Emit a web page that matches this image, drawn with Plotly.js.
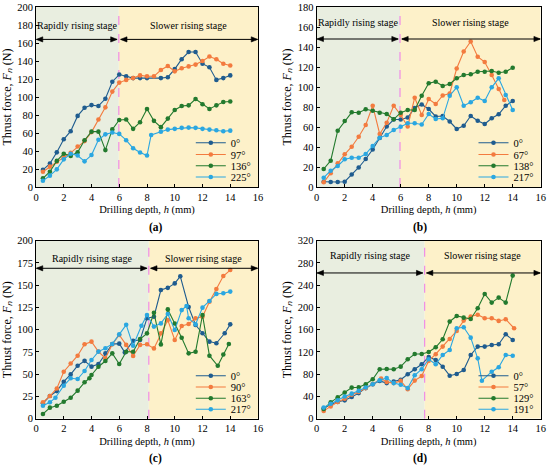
<!DOCTYPE html>
<html>
<head>
<meta charset="utf-8">
<script src="https://cdn.plot.ly/plotly-3.0.1.min.js"></script>
<style>html,body{margin:0;padding:0;background:#fff}#chart{width:550px;height:468px}</style>
</head>
<body>
<div id="chart"></div>
<script>
// ---------- Data ----------
var grid = [0.5,1,1.5,2,2.5,3,3.5,4,4.5,5,5.5,6,6.5,7,7.5,8,8.5,9,9.5,10,10.5,11,11.5,12,12.5,13,13.5,14];

// Panel (a)
var aNames = ["0°","97°","136°","225°"];
var a0x = [0.5,1,1.5,2,2.5,3,3.5,4,4.5,5,5.5,6,6.5,7,7.5,8,9,9.5,10,10.5,11,11.5,12,12.5,13,13.5,14];
var a0y = [19,26,38.5,53,62,79,88,91,90,98,117,125,123,121,121,121,121,122,131,142,150,150,137,133,119,121,124];
var a97x = grid;
var a97y = [17,22.6,28,33,38,45,51,61,75,88.5,106,116,119,121,124,123,123,130,134.5,128.5,132,134,136,140,145,142,137,135];
var a136x = grid;
var a136y = [9.6,17,29,37,34.5,38.5,52,61.5,61.5,41,64,74.5,75,64.6,72,86.7,73.5,66.5,76,85.6,90,90.7,97.7,92,86.7,90.7,94.4,95];
var a225x = [0.5,1,1.5,2,2.5,3,3.5,4,4.5,5,5.5,6,6.5,7,7.5,8,8.3,9,9.5,10,10.5,11,11.5,12,12.5,13,13.5,14];
var a225y = [7,12.6,19.6,30.7,37,35,28.5,35.5,52.5,58.5,60.5,59,52,43,38.3,35,57.8,61.5,63.8,64.6,65.7,66,65.7,64.6,63.8,63,62,62.6];

// Panel (b)
var bNames = ["0°","67°","138°","217°"];
var b0x = grid;
var b0y = [5.3,5,5,5.3,12.5,19.5,28,37.5,49,60.5,67.5,67.5,69.5,79,82.5,78,70.5,71,65.5,58,61.3,71,66.3,63,68.7,72.7,81.3,86];
var b67x = [0.5,1,1.5,2,2.5,3,3.5,4,4.5,5,5.5,6,6.5,7,7.5,8,8.5,9,9.5,10,10.5,11,11.5,12,12.5,13,13.4];
var b67y = [4.7,13.7,23.7,32.7,40.3,50.3,62,81.3,53,64.3,81.3,72,60.5,89.3,72,88,83,91.5,93.5,118.5,135.5,145.5,130.3,125,112,98,87];
var b138x = grid;
var b138y = [18,26.3,56.3,66,74.7,74.3,77.7,76.3,74.3,73,67.7,74.3,77,77,91.3,103.7,105.3,101,103,108.7,112,112.7,115.3,115.3,116,114.3,115.3,119.3];
var b217x = grid;
var b217y = [9.3,16.3,21,27.7,29.3,29.3,33,41,49.3,52,57,60.3,63.7,63.7,62.5,73,68,68.7,91.3,99.7,81.3,84.7,89.3,86,99.7,108.7,92,77];

// Panel (c)
var cNames = ["0°","90°","163°","217°"];
var c0x = [0.5,1,1.5,2,2.5,3,3.5,4,4.5,5,5.5,6,6.4,7,7.5,8,8.5,9,9.5,10,10.4,11,11.5,12,12.5,13,13.6,14];
var c0y = [17.3,25.5,31,41.6,49.8,59.5,65,58.5,61.4,73.4,84,84.3,74.5,87.6,88.4,113,114.6,144.6,147,152,160,125.5,105.3,96,86.6,84.8,96,106];
var c90x = grid;
var c90y = [18.4,25.5,34,52.8,62,70.8,83.6,86.6,75.4,67.9,83.6,94,82.9,70.5,82.9,83.7,79,95.9,110.8,88.4,104.2,106.4,112.8,114.6,131.5,145.7,160.3,167];
var c163x = [0.5,1,1.5,2,2.5,3,3.5,3.85,4,4.5,5,5.5,6,6.5,7,7.5,8,8.5,9,9.5,10,10.5,11,11.5,12,12.5,13.1,13.5,13.9];
var c163y = [5.3,12.4,14.6,19.1,23.6,31.5,40.9,45.4,49.1,58.4,64.8,73.4,61.4,75.3,75.3,89.5,95.9,119,83.5,122.8,107,91,73.4,75.3,116.5,70.8,59.5,72.2,83.9];
var c217x = [0.5,1,1.4,2,2.5,3,3.5,4,4.5,5,5.5,6,6.5,7,7.6,8,8.5,9,9.5,10,10.5,10.85,11,11.5,12,12.5,13,13.5,14];
var c217y = [14.6,18.4,23.6,37.1,45.4,44.6,53.6,66,75.4,79.1,84,94.8,105.5,82,104.5,116.5,103.5,107.1,117.6,99.6,122,126.6,112.8,106,124.8,132.3,140.2,141,142.8];

// Panel (d)
var dNames = ["0°","57°","129°","191°"];
var d0x = grid;
var d0y = [18.5,26,30,33,39,46,55,62,68,64,67,70,80,88.8,97.8,111,105.5,93.5,77.3,80.3,87.5,114.5,129.6,129.6,132.6,133.8,151.8,141.6];
var d57x = [0.5,1,1.5,2,2.5,3,3.5,4,4.6,5,5.5,6,6.5,7,7.5,8,8.5,9,9.5,10,10.5,11,11.5,12,12.5,13,13.5,14.1];
var d57y = [14,22,30,36,43,48,55,62,72,66,64,68,53,68.5,76.7,104,116,129.6,143.4,157.8,176.4,183.6,187,180.6,180.6,175.8,178.8,162.6];
var d129x = grid;
var d129y = [17.4,29.4,38.4,46.9,55.9,56.5,61.9,70.8,88.8,89.4,88.8,93.6,106.8,116.4,116.4,120,128.4,142.7,174.6,184.7,181.7,179.3,198.5,224.3,208.7,217.7,208.7,257.3];
var d191x = [0.5,1,1.5,2,2.5,3,3.5,4,4.5,5,5.5,6,6.5,7,7.5,8,8.5,9,9.5,10,10.5,11,11.5,11.8,12.5,13,13.5,14];
var d191y = [20,27,33,40,45,50,56,62,69,73,64,61,55,78,89,106.8,97.8,114.5,123.5,162.5,164.3,145.7,108.5,68.3,84.5,92.4,114.5,113.3];

// Stage boundaries / annotations (per panel)
var boundary = [5.97, 5.95, 8.13, 7.71];
var yMax = [200, 180, 200, 320];
var yStep = [20, 20, 25, 40];
var arrowY = [164, 148, 169, 262];
var stageTextY = [179, 164, 180, 293];
var panelLabels = ["(a)","(b)","(c)","(d)"];
var stageLeft = "Rapidly rising stage";
var stageRight = "Slower rising stage";
var xTitle = "Drilling depth, <i>h</i> (mm)";
var yTitle = "Thrust force, <i>F\u2099</i> (N)";

// ---------- Style ----------
var FONT = "Liberation Serif, Times New Roman, serif";
var colors = ["#1f5c8f","#f37b3f","#237a2e","#2aa7e1"];
var GREEN_BG = "#e9eee0";
var YELLOW_BG = "#fdf1c9";

var panels = [
  {names:aNames, xs:[a0x,a97x,a136x,a225x], ys:[a0y,a97y,a136y,a225y]},
  {names:bNames, xs:[b0x,b67x,b138x,b217x], ys:[b0y,b67y,b138y,b217y]},
  {names:cNames, xs:[c0x,c90x,c163x,c217x], ys:[c0y,c90y,c163y,c217y]},
  {names:dNames, xs:[d0x,d57x,d129x,d191x], ys:[d0y,d57y,d129y,d191y]}
];

var W = 550, H = 468;
var xDom = [[36/W, 258/W],[316.7/W, 540.7/W]];
var yDom = [[1-187/H, 1-7/H],[1-418.7/H, 1-240.7/H]];
// legend entry centres (page px) for top / bottom rows
var legendRows = [[142.7,154.5,165.8,177], [375.8,387,398.2,409.2]];

var traces = [];
var layout = {
  width: W, height: H,
  margin: {l:0, r:0, t:0, b:0},
  paper_bgcolor: "#ffffff",
  plot_bgcolor: "#ffffff",
  font: {family: FONT, size: 10.5, color: "#000"},
  showlegend: true,
  shapes: [], annotations: []
};

function arrowHead(xa, ya, x, y, dir) {
  // dir = -1 points left, +1 points right (pixel-sized triangle anchored at data point)
  var L = 6.5 * dir, h = 2.6;
  return {type:"path", xref:xa, yref:ya, xsizemode:"pixel", ysizemode:"pixel",
          xanchor:x, yanchor:y,
          path:"M0,0 L" + (-L) + "," + h + " L" + (-L) + "," + (-h) + " Z",
          fillcolor:"#000", line:{color:"#000", width:0.6}};
}

panels.forEach(function(p, i){
  var sfx = i === 0 ? "" : String(i+1);
  var xa = "x" + sfx, ya = "y" + sfx;
  var col = i % 2, row = Math.floor(i/2);
  var legName = i === 0 ? "legend" : "legend" + (i+1);
  for (var k = 0; k < 4; k++) {
    traces.push({
      type: "scatter", mode: "lines+markers",
      x: p.xs[k], y: p.ys[k], name: p.names[k],
      xaxis: xa, yaxis: ya, legend: legName,
      line: {color: colors[k], width: 1.1},
      marker: {color: colors[k], size: 4.6, symbol: "circle"},
      cliponaxis: false
    });
  }
  var axBase = {
    showline: true, linecolor: "#000", linewidth: 1, mirror: true,
    ticks: "inside", ticklen: 3, tickcolor: "#000", tickwidth: 1,
    showgrid: false, zeroline: false,
    tickfont: {family: FONT, size: 10.5, color: "#000"}
  };
  layout["xaxis" + sfx] = Object.assign({}, axBase, {
    domain: xDom[col], anchor: ya, range: [0, 16], dtick: 2, tick0: 0,
    title: {text: xTitle, font: {family: FONT, size: 10.5}, standoff: 4}
  });
  layout["yaxis" + sfx] = Object.assign({}, axBase, {
    domain: yDom[row], anchor: xa, range: [0, yMax[i]], dtick: yStep[i], tick0: 0,
    title: {text: yTitle, font: {family: FONT, size: 12}, standoff: 3}
  });
  layout[legName] = {
    x: xDom[col][1] - 0.004, xanchor: "right",
    y: yDom[row][0] + 0.004, yanchor: "bottom",
    bgcolor: "rgba(0,0,0,0)", borderwidth: 0,
    font: {family: FONT, size: 10.5, color: "#000"},
    tracegroupgap: 0, itemwidth: 30
  };
  var b = boundary[i], ay = arrowY[i];
  layout.shapes.push(
    {type:"rect", xref:xa, yref:ya, x0:0, x1:b, y0:0, y1:yMax[i], fillcolor:GREEN_BG, line:{width:0}, layer:"below"},
    {type:"rect", xref:xa, yref:ya, x0:b, x1:16, y0:0, y1:yMax[i], fillcolor:YELLOW_BG, line:{width:0}, layer:"below"},
    {type:"line", xref:xa, yref:ya, x0:b, x1:b, y0:0, y1:yMax[i], line:{color:"#f08ce6", width:1.2, dash:"dash"}, layer:"below"},
    // left double arrow
    {type:"line", xref:xa, yref:ya, x0:0.05, x1:b-0.15, y0:ay, y1:ay, line:{color:"#000", width:1}},
    arrowHead(xa, ya, 0.02, ay, -1),
    arrowHead(xa, ya, b-0.12, ay, 1),
    // right double arrow
    {type:"line", xref:xa, yref:ya, x0:b+0.15, x1:15.95, y0:ay, y1:ay, line:{color:"#000", width:1}},
    arrowHead(xa, ya, b+0.12, ay, -1),
    arrowHead(xa, ya, 15.98, ay, 1)
  );
  layout.annotations.push(
    {xref:xa, yref:ya, x:b/2, y:stageTextY[i], text:stageLeft, showarrow:false,
     font:{family:FONT, size:10, color:"#000"}},
    {xref:xa, yref:ya, x:(b+16)/2, y:stageTextY[i], text:stageRight, showarrow:false,
     font:{family:FONT, size:10, color:"#000"}},
    {xref:"paper", yref:"paper", x:(xDom[col][0]+xDom[col][1])/2, y:yDom[row][0] - 40/H, yanchor:"middle",
     text:"<b>" + panelLabels[i] + "</b>", showarrow:false, font:{family:FONT, size:11.5, color:"#000"}}
  );
});

Plotly.newPlot("chart", traces, layout, {displayModeBar:false, staticPlot:true}).then(function(gd){
  // tighten the vertical spacing of each Plotly legend to match the compact reference legends
  var top = gd.getBoundingClientRect().top;
  ["legend","legend2","legend3","legend4"].forEach(function(id, li){
    var g = gd.querySelector("g." + id);
    if (!g) return;
    var targets = legendRows[Math.floor(li/2)];
    var items = g.querySelectorAll("g.traces");
    items.forEach(function(it, k){
      var sym = it.querySelector(".legendpoints") || it;
      var r = sym.getBoundingClientRect();
      var cy = (r.top + r.bottom) / 2 - top;
      var m = /translate\(\s*([-\d.e]+)[\s,]+([-\d.e]+)\s*\)/.exec(it.getAttribute("transform") || "");
      var x = m ? parseFloat(m[1]) : 0, y = m ? parseFloat(m[2]) : 0;
      it.setAttribute("transform", "translate(" + x + "," + (y + targets[k] - cy) + ")");
    });
  });
});
</script>
</body>
</html>
